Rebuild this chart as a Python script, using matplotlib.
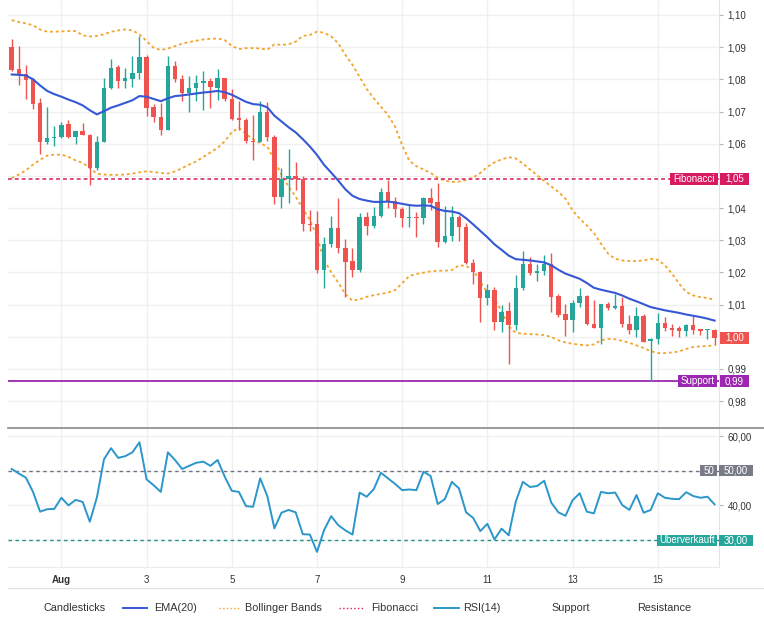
import matplotlib
matplotlib.use('Agg')
import matplotlib.pyplot as plt
import matplotlib.transforms as mtransforms
from matplotlib.lines import Line2D
from matplotlib.patches import Rectangle
from matplotlib.ticker import FuncFormatter
import numpy as np
import pandas as pd

plt.rcParams['font.family'] = ['Liberation Sans', 'DejaVu Sans']

# DATA - 4h candles
dates = pd.date_range('2022-07-30 20:00', periods=100, freq='4h')

opens = [
    1.0900, 1.0833, 1.0816, 1.0800, 1.0726, 1.0605, 1.0617, 1.0620, 1.0661, 1.0620,
    1.0639, 1.0628, 1.0524, 1.0604, 1.0774, 1.0838, 1.0794, 1.0802, 1.0820, 1.0870,
    1.0713, 1.0683, 1.0644, 1.0841, 1.0802, 1.0758, 1.0774, 1.0789, 1.0795, 1.0774,
    1.0803, 1.0739, 1.0680, 1.0673, 1.0608, 1.0606, 1.0700, 1.0622, 1.0433, 1.0490,
    1.0501, 1.0490, 1.0350, 1.0350, 1.0207, 1.0287, 1.0337, 1.0277, 1.0235, 1.0207,
    1.0371, 1.0344, 1.0376, 1.0451, 1.0423, 1.0396, 1.0369, 1.0371, 1.0369, 1.0430,
    1.0418, 1.0295, 1.0312, 1.0373, 1.0342, 1.0229, 1.0202, 1.0119, 1.0144, 1.0046,
    1.0080, 1.0035, 1.0151, 1.0227, 1.0199, 1.0205, 1.0225, 1.0125, 1.0069, 1.0051,
    1.0105, 1.0128, 1.0038, 1.0028, 1.0101, 1.0090, 1.0094, 1.0040, 1.0020, 1.0063,
    0.9986, 0.9992, 1.0044, 1.0027, 1.0027, 1.0018, 1.0037, 1.0025, 1.0020, 1.0022,
]
highs = [
    1.0924, 1.0903, 1.0843, 1.0805, 1.0742, 1.0713, 1.0654, 1.0668, 1.0675, 1.0639,
    1.0665, 1.0630, 1.0623, 1.0805, 1.0862, 1.0846, 1.0834, 1.0872, 1.0934, 1.0877,
    1.0722, 1.0725, 1.0874, 1.0857, 1.0812, 1.0810, 1.0812, 1.0826, 1.0805, 1.0831,
    1.0803, 1.0770, 1.0732, 1.0680, 1.0689, 1.0733, 1.0729, 1.0627, 1.0524, 1.0583,
    1.0544, 1.0498, 1.0394, 1.0392, 1.0311, 1.0375, 1.0430, 1.0303, 1.0275, 1.0386,
    1.0389, 1.0404, 1.0463, 1.0487, 1.0435, 1.0404, 1.0410, 1.0389, 1.0435, 1.0461,
    1.0477, 1.0406, 1.0406, 1.0378, 1.0352, 1.0240, 1.0205, 1.0165, 1.0156, 1.0097,
    1.0108, 1.0191, 1.0266, 1.0248, 1.0227, 1.0255, 1.0260, 1.0134, 1.0101, 1.0113,
    1.0151, 1.0130, 1.0113, 1.0103, 1.0108, 1.0134, 1.0123, 1.0066, 1.0092, 1.0071,
    0.9995, 1.0075, 1.0061, 1.0038, 1.0033, 1.0038, 1.0063, 1.0025, 1.0025, 1.0025,
]
lows = [
    1.0826, 1.0781, 1.0739, 1.0708, 1.0569, 1.0600, 1.0594, 1.0617, 1.0617, 1.0600,
    1.0628, 1.0472, 1.0517, 1.0604, 1.0771, 1.0774, 1.0774, 1.0777, 1.0800, 1.0685,
    1.0667, 1.0628, 1.0644, 1.0791, 1.0732, 1.0698, 1.0732, 1.0705, 1.0711, 1.0737,
    1.0732, 1.0675, 1.0644, 1.0602, 1.0550, 1.0604, 1.0607, 1.0413, 1.0399, 1.0417,
    1.0456, 1.0327, 1.0327, 1.0197, 1.0150, 1.0280, 1.0259, 1.0124, 1.0185, 1.0202,
    1.0316, 1.0337, 1.0373, 1.0399, 1.0373, 1.0340, 1.0342, 1.0311, 1.0349, 1.0394,
    1.0278, 1.0292, 1.0297, 1.0299, 1.0226, 1.0165, 1.0046, 1.0097, 1.0020, 1.0015,
    0.9914, 1.0020, 1.0144, 1.0191, 1.0173, 1.0191, 1.0077, 1.0061, 1.0003, 1.0015,
    1.0092, 1.0035, 1.0028, 0.9978, 1.0082, 1.0087, 1.0030, 1.0009, 1.0000, 0.9983,
    0.9862, 0.9978, 1.0017, 1.0003, 0.9999, 1.0003, 1.0009, 1.0004, 0.9994, 0.9973,
]
closes = [
    1.0829, 1.0818, 1.0798, 1.0723, 1.0605, 1.0618, 1.0620, 1.0659, 1.0620, 1.0639,
    1.0628, 1.0524, 1.0604, 1.0774, 1.0836, 1.0794, 1.0803, 1.0820, 1.0870, 1.0711,
    1.0683, 1.0644, 1.0841, 1.0800, 1.0758, 1.0774, 1.0789, 1.0795, 1.0776, 1.0803,
    1.0740, 1.0677, 1.0673, 1.0607, 1.0604, 1.0700, 1.0622, 1.0433, 1.0490, 1.0501,
    1.0490, 1.0350, 1.0348, 1.0207, 1.0287, 1.0337, 1.0277, 1.0233, 1.0207, 1.0371,
    1.0344, 1.0376, 1.0451, 1.0420, 1.0396, 1.0368, 1.0371, 1.0369, 1.0430, 1.0415,
    1.0295, 1.0313, 1.0373, 1.0342, 1.0229, 1.0202, 1.0119, 1.0144, 1.0046, 1.0077,
    1.0035, 1.0151, 1.0227, 1.0199, 1.0205, 1.0225, 1.0123, 1.0066, 1.0051, 1.0105,
    1.0128, 1.0038, 1.0028, 1.0101, 1.0090, 1.0094, 1.0040, 1.0020, 1.0063, 0.9983,
    0.9992, 1.0044, 1.0027, 1.0020, 1.0019, 1.0037, 1.0020, 1.0018, 1.0023, 0.9997,
]
ema20 = [
    1.0815, 1.0814, 1.0812, 1.0800, 1.0781, 1.0764, 1.0754, 1.0746, 1.0737, 1.0729,
    1.0719, 1.0704, 1.0691, 1.0701, 1.0712, 1.0719, 1.0727, 1.0735, 1.0748, 1.0746,
    1.0739, 1.0732, 1.0741, 1.0748, 1.0750, 1.0753, 1.0756, 1.0759, 1.0761, 1.0764,
    1.0760, 1.0752, 1.0741, 1.0730, 1.0723, 1.0721, 1.0713, 1.0687, 1.0669, 1.0651,
    1.0635, 1.0614, 1.0591, 1.0565, 1.0534, 1.0510, 1.0485, 1.0458, 1.0438, 1.0428,
    1.0423, 1.0419, 1.0419, 1.0420, 1.0417, 1.0413, 1.0409, 1.0407, 1.0408, 1.0407,
    1.0396, 1.0391, 1.0389, 1.0384, 1.0368, 1.0349, 1.0329, 1.0309, 1.0287, 1.0270,
    1.0252, 1.0241, 1.0239, 1.0237, 1.0234, 1.0231, 1.0222, 1.0208, 1.0196, 1.0188,
    1.0180, 1.0167, 1.0152, 1.0146, 1.0141, 1.0136, 1.0128, 1.0118, 1.0110, 1.0101,
    1.0092, 1.0087, 1.0082, 1.0078, 1.0074, 1.0069, 1.0065, 1.0061, 1.0056, 1.0050,
]
bb_upper = [
    1.0984, 1.0978, 1.0974, 1.0968, 1.0955, 1.0948, 1.0948, 1.0949, 1.0950, 1.0950,
    1.0937, 1.0933, 1.0935, 1.0940, 1.0948, 1.0952, 1.0955, 1.0952, 1.0940, 1.0919,
    1.0898, 1.0891, 1.0896, 1.0903, 1.0911, 1.0916, 1.0920, 1.0924, 1.0926, 1.0927,
    1.0922, 1.0904, 1.0894, 1.0897, 1.0897, 1.0896, 1.0892, 1.0909, 1.0907, 1.0909,
    1.0917, 1.0935, 1.0938, 1.0948, 1.0945, 1.0933, 1.0912, 1.0876, 1.0845, 1.0808,
    1.0770, 1.0741, 1.0715, 1.0689, 1.0653, 1.0595, 1.0547, 1.0530, 1.0520, 1.0509,
    1.0494, 1.0485, 1.0481, 1.0482, 1.0487, 1.0495, 1.0509, 1.0528, 1.0542, 1.0551,
    1.0558, 1.0554, 1.0538, 1.0520, 1.0502, 1.0484, 1.0467, 1.0450, 1.0429, 1.0393,
    1.0367, 1.0346, 1.0322, 1.0289, 1.0258, 1.0242, 1.0237, 1.0235, 1.0235, 1.0237,
    1.0242, 1.0239, 1.0222, 1.0196, 1.0165, 1.0139, 1.0128, 1.0123, 1.0120, 1.0115,
]
bb_lower = [
    1.0493, 1.0504, 1.0517, 1.0535, 1.0550, 1.0563, 1.0566, 1.0566, 1.0559, 1.0548,
    1.0540, 1.0524, 1.0507, 1.0504, 1.0503, 1.0503, 1.0504, 1.0507, 1.0511, 1.0514,
    1.0512, 1.0509, 1.0507, 1.0514, 1.0524, 1.0535, 1.0545, 1.0559, 1.0573, 1.0587,
    1.0607, 1.0636, 1.0649, 1.0630, 1.0614, 1.0601, 1.0591, 1.0550, 1.0503, 1.0467,
    1.0435, 1.0399, 1.0363, 1.0311, 1.0238, 1.0200, 1.0168, 1.0132, 1.0112, 1.0116,
    1.0124, 1.0129, 1.0133, 1.0137, 1.0145, 1.0166, 1.0189, 1.0195, 1.0199, 1.0203,
    1.0205, 1.0205, 1.0207, 1.0222, 1.0220, 1.0207, 1.0171, 1.0137, 1.0116, 1.0080,
    1.0032, 1.0012, 1.0009, 1.0008, 1.0007, 1.0005, 0.9999, 0.9989, 0.9982, 0.9978,
    0.9975, 0.9973, 0.9976, 0.9989, 0.9993, 0.9992, 0.9987, 0.9981, 0.9973, 0.9965,
    0.9955, 0.9949, 0.9949, 0.9951, 0.9954, 0.9962, 0.9968, 0.9970, 0.9971, 0.9973,
]
rsi14 = [
    50.5, 49.2, 48.0, 43.9, 38.2, 38.9, 39.0, 42.2, 40.0, 41.6,
    41.0, 35.3, 42.3, 53.3, 56.5, 53.7, 54.2, 55.3, 58.2, 47.5,
    45.8, 43.9, 55.3, 53.1, 50.5, 51.4, 52.3, 52.6, 51.4, 53.1,
    48.3, 44.2, 43.9, 39.8, 39.6, 47.8, 42.7, 33.4, 37.9, 38.7,
    38.0, 31.7, 31.6, 26.6, 32.9, 36.9, 34.3, 32.8, 31.6, 43.7,
    42.5, 44.7, 49.4, 47.8, 46.2, 44.4, 44.6, 44.4, 49.7, 48.5,
    40.4, 41.8, 46.8, 44.9, 38.0, 36.4, 32.6, 34.7, 30.2, 33.3,
    31.4, 41.1, 46.8, 45.3, 45.6, 47.1, 40.8, 38.0, 37.0, 41.5,
    43.5, 38.2, 37.7, 43.9, 43.5, 43.7, 40.1, 38.7, 43.0, 37.9,
    38.7, 43.5, 42.2, 41.9, 41.8, 43.8, 42.7, 42.2, 42.5, 40.3,
]
fib_level = 1.0491
support_level = 0.9862
rsi_mid = 50
rsi_oversold = 30

# STYLE
UP = '#26a69a'
DOWN = '#ef5350'
EMA_C = '#3558d4'
BB_C = '#f2a42c'
FIB_C = '#d81b60'
SUP_C = '#9c27b0'
RSI_C = '#2b96cc'
GRID_C = '#f0f0f0'
TXT_C = '#333333'

W, H = 764, 620
fig = plt.figure(figsize=(W / 100, H / 100), dpi=100)


def fx(px):
    return px / W


def fy(py):
    return 1 - py / H


def fmt(v):
    return f'{v:.2f}'.replace('.', ',')


ax = fig.add_axes([fx(8), fy(427), fx(719) - fx(8), fy(0) - fy(427)])
ax_rsi = fig.add_axes([fx(8), fy(567), fx(719) - fx(8), fy(427) - fy(567)], sharex=ax)

idx = np.arange(len(dates))
o = np.array(opens)
c = np.array(closes)
colors = np.where(c >= o, UP, DOWN)

# CANDLES
ax.vlines(idx, lows, highs, colors=colors, lw=1, zorder=3)
body = np.maximum(np.abs(c - o), 0.00012)
ax.bar(idx, body, bottom=np.minimum(o, c), width=0.62, color=colors,
       linewidth=0, zorder=4)

# INDICATORS
ax.plot(idx, ema20, color=EMA_C, lw=1.5, zorder=5)
ax.plot(idx, bb_upper, color=BB_C, lw=1.3, dashes=(1.6, 1.6), zorder=2)
ax.plot(idx, bb_lower, color=BB_C, lw=1.3, dashes=(1.6, 1.6), zorder=2)
ax.axhline(fib_level, color=FIB_C, lw=1.1, dashes=(2.5, 2), zorder=2)
ax.axhline(support_level, color=SUP_C, lw=1.3, zorder=2)

ax.set_xlim(-0.52, 99.62)
ax.set_ylim(0.97193, 1.10466)
ax.set_yticks(np.arange(0.98, 1.1001, 0.01))
# labels hidden where a marker box sits on the axis
covered = {fmt(fib_level), fmt(closes[-1])}
ax.yaxis.set_major_formatter(FuncFormatter(
    lambda v, p: '' if fmt(v) in covered else fmt(v)))

# RSI
ax_rsi.plot(idx, rsi14, color=RSI_C, lw=1.4, zorder=4)
ax_rsi.axhline(rsi_mid, color='#6f7380', lw=1, dashes=(2.5, 2.5), zorder=3)
ax_rsi.axhline(rsi_oversold, color='#1f8f84', lw=1, dashes=(2.5, 2.5), zorder=3)
ax_rsi.set_ylim(22.25, 62.6)
ax_rsi.set_yticks([30, 40, 50, 60])
ax_rsi.yaxis.set_major_formatter(FuncFormatter(
    lambda v, p: '' if v in (rsi_mid, rsi_oversold) else fmt(v)))

# x ticks: odd days of August at midnight
tick_pos = [i for i, d in enumerate(dates) if d.hour == 0 and d.day % 2 == 1 and d.month == 8]
tick_lab = ['Aug' if dates[i].day == 1 else str(dates[i].day) for i in tick_pos]
ax_rsi.set_xticks(tick_pos)
ax_rsi.set_xticklabels(tick_lab)
for lbl in ax_rsi.get_xticklabels():
    if lbl.get_text() == 'Aug':
        lbl.set_fontweight('bold')

for a in (ax, ax_rsi):
    a.set_facecolor('white')
    a.grid(True, color=GRID_C, lw=1, zorder=0)
    a.set_axisbelow(True)
    for s in ('left', 'top', 'bottom'):
        a.spines[s].set_visible(False)
    a.spines['right'].set_color('#e4e4e4')
    a.yaxis.tick_right()
    a.tick_params(axis='y', length=3, width=0.8, color='#b5b5b5',
                  labelsize=7, labelcolor=TXT_C, pad=3)

ax.tick_params(axis='x', length=0, labelbottom=False)
ax_rsi.tick_params(axis='x', length=0, labelsize=7, labelcolor=TXT_C, pad=6)
ax_rsi.spines['bottom'].set_visible(True)
ax_rsi.spines['bottom'].set_color('#ececec')


# LABEL BOXES ON THE PRICE AXIS
def axis_box(axis, y, text, color, x0, x1, h=12, size=7):
    tr = mtransforms.blended_transform_factory(fig.transFigure, axis.transData)
    lo, hi = axis.get_ylim()
    dh = h * (hi - lo) / (axis.get_position().height * H)
    axis.add_patch(Rectangle((fx(x0), y - dh / 2), fx(x1) - fx(x0), dh,
                             transform=tr, facecolor=color, edgecolor='none',
                             clip_on=False, zorder=10))
    axis.text(fx((x0 + x1) / 2), y, text, transform=tr, ha='center', va='center',
              color='white', fontsize=size, clip_on=False, zorder=11)


axis_box(ax, fib_level, 'Fibonacci', FIB_C, 670, 718)
axis_box(ax, fib_level, fmt(fib_level), FIB_C, 720, 749)
axis_box(ax, support_level, 'Support', SUP_C, 678, 717)
axis_box(ax, support_level, fmt(support_level), SUP_C, 720, 749)
axis_box(ax, closes[-1], fmt(closes[-1]), DOWN, 720, 749)
axis_box(ax_rsi, rsi_mid, '50', '#787b86', 700, 717, h=11)
axis_box(ax_rsi, rsi_mid, fmt(rsi_mid), '#787b86', 719, 753, h=11)
axis_box(ax_rsi, rsi_oversold, 'Überverkauft', UP, 657, 717, h=11)
axis_box(ax_rsi, rsi_oversold, fmt(rsi_oversold), UP, 719, 753, h=11)

# panel divider and bottom separator
fig.add_artist(Line2D([fx(8), fx(764)], [fy(427.5)] * 2, transform=fig.transFigure,
                      color='#8a8a8a', lw=1.2))
fig.add_artist(Line2D([fx(8), fx(764)], [fy(588)] * 2, transform=fig.transFigure,
                      color='#e2e2e2', lw=1))

# LEGEND
ly = fy(608)
legend_items = [
    ('Candlesticks', 43, None),
    ('EMA(20)', 154, (123, 147, EMA_C, '-')),
    ('Bollinger Bands', 245, (219, 239, BB_C, ':')),
    ('Fibonacci', 371, (339, 364, FIB_C, ':')),
    ('RSI(14)', 463, (434, 459, RSI_C, '-')),
    ('Support', 551, None),
    ('Resistance', 637, None),
]
for label, tx, line in legend_items:
    if line is not None:
        x0, x1, col, ls = line
        fig.add_artist(Line2D([fx(x0), fx(x1)], [ly, ly], transform=fig.transFigure,
                              color=col, lw=1.4 if ls == '-' else 1.0, linestyle=ls))
    fig.text(fx(tx), ly, label, ha='left', va='center', fontsize=7.8, color=TXT_C)

fig.savefig('out.png', dpi=100, facecolor='white')
